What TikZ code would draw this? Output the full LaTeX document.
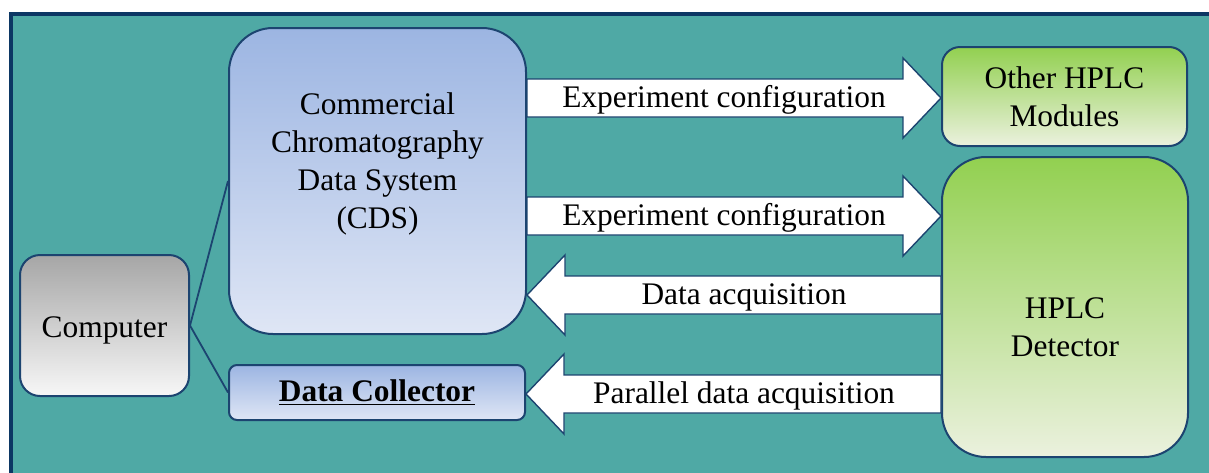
\documentclass[tikz,border=0pt]{standalone}
\usepackage{fontspec}
\setmainfont{Liberation Serif}
\usetikzlibrary{calc}

\definecolor{panelteal}{HTML}{4FA9A5}
\definecolor{panelnavy}{HTML}{0C3764}
\definecolor{edgenavy}{HTML}{1C4470}
\definecolor{bluetop}{HTML}{9CB5E2}
\definecolor{bluebottom}{HTML}{DFE6F5}
\definecolor{greentop}{HTML}{92D050}
\definecolor{greenbottom}{HTML}{EBF1DE}
\definecolor{greytop}{HTML}{A6A6A6}
\definecolor{greybottom}{HTML}{F7F7F7}

\tikzset{
  boxtext/.style={align=center, font=\fontsize{15.7}{19}\selectfont},
  box/.style={boxtext, draw=edgenavy, line width=1pt},
  bluebox/.style={box, top color=bluetop, bottom color=bluebottom},
  greenbox/.style={box, top color=greentop, bottom color=greenbottom},
  greybox/.style={box, top color=greytop, bottom color=greybottom},
  link/.style={draw=edgenavy, line width=0.9pt},
  % wide white arrow between two points on one line
  blockarrow/.style={draw=edgenavy, fill=white, line width=0.7pt,
    to path={let \p1=(\tikztostart), \p2=(\tikztotarget),
      \p3=($(\tikztotarget)!19pt!(\tikztostart)$) in
      (\x1,\y1-9.5pt) -- (\x3,\y1-9.5pt) -- (\x3,\y1-20pt) -- (\x2,\y2)
      -- (\x3,\y1+20pt) -- (\x3,\y1+9.5pt) -- (\x1,\y1+9.5pt) -- cycle}},
}

\begin{document}
\begin{tikzpicture}[x=0.5pt, y=-0.5pt]
  \useasboundingbox (0,0) rectangle (1209,472);
  \clip (0,0) rectangle (1209,472);

  % panel
  \draw[fill=panelteal, draw=panelnavy, line width=2pt] (11,14) rectangle (1240,500);

  % boxes
  \node[greybox, rounded corners=10pt, minimum width=84.5pt, minimum height=70.5pt] (computer) at (104.5,325.5) {};
  \node[boxtext] (computertext) at (104.5,330) {Computer};
  \node[bluebox, rounded corners=22pt, minimum width=148.5pt, minimum height=153pt] (cds) at (377.5,181) {};
  \node[boxtext] (cdstext) at (377.5,164) {Commercial\\Chromatography\\Data System\\(CDS)};
  \node[bluebox, rounded corners=4pt, minimum width=148pt, minimum height=27.5pt] (collector) at (377,392.5) {\bfseries\underline{Data Collector}};
  \node[greenbox, rounded corners=9pt, minimum width=122.5pt, minimum height=49.5pt] (other) at (1064.5,96.5) {Other HPLC\\Modules};
  \node[greenbox, rounded corners=22pt, minimum width=123pt, minimum height=150pt] (detector) at (1065,307) {};
  \node[boxtext] (detectortext) at (1065,327) {HPLC\\Detector};

  % computer links
  \draw[link] (computer.east) -- (cds.west);
  \draw[link] (computer.east) -- (collector.west);

  % data flow
  \draw[blockarrow] (cds.east |- 0,98) to (other.west |- 0,98);
  \draw[blockarrow] (cds.east |- 0,216) to (detector.west |- 0,216);
  \draw[blockarrow] (detector.west |- 0,295) to (cds.east |- 0,295);
  \draw[blockarrow] (detector.west |- 0,394) to (collector.east |- 0,394);

  \node[boxtext] (cfgother) at (724,100) {Experiment configuration};
  \node[boxtext] (cfgdetector) at (724,218) {Experiment configuration};
  \node[boxtext] (acq) at (744,297) {Data acquisition};
  \node[boxtext] (paracq) at (744,396) {Parallel data acquisition};
\end{tikzpicture}
\end{document}
